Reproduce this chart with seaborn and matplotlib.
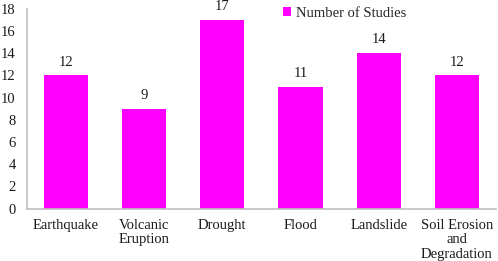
import matplotlib
matplotlib.use('Agg')
import matplotlib.pyplot as plt
import seaborn as sns

categories = ['Earthquake', 'Volcanic\nEruption', 'Drought', 'Flood', 'Landslide',
              'Soil Erosion\nand\nDegradation']
studies = [12, 9, 17, 11, 14, 12]
y_ticks = [0, 2, 4, 6, 8, 10, 12, 14, 16, 18]

sns.set_style('white')
plt.rcParams['font.family'] = ['Liberation Serif', 'DejaVu Serif']

fig = plt.figure(figsize=(4.98, 2.61), dpi=100)
ax = fig.add_axes([0.054, 0.201, 0.942, 0.765])

sns.barplot(x=categories, y=studies, color='#FF00FF', saturation=1, width=0.565,
            label='Number of Studies', linewidth=0, ax=ax)

for i, v in enumerate(studies):
    ax.text(i, v + 1.2, str(v), ha='center', va='center', fontsize=10.5, color='#1a1a1a')

ax.set_ylim(0, 18)
ax.set_xlim(-0.5, 5.5)
ax.set_yticks(y_ticks)
ax.tick_params(axis='both', length=0, labelsize=10.5, colors='#1a1a1a')
ax.tick_params(axis='x', pad=7.5)
ax.tick_params(axis='y', pad=8)
for lbl in ax.get_xticklabels():
    lbl.set_linespacing(1.15)

for side in ['top', 'right']:
    ax.spines[side].set_visible(False)
for side in ['left', 'bottom']:
    ax.spines[side].set_color('#BFBFBF')
    ax.spines[side].set_linewidth(1.2)

ax.legend(loc='center left', bbox_to_anchor=(0.545, 0.979), frameon=False, fontsize=10.5,
          handlelength=0.55, handleheight=0.55, handletextpad=0.35, borderaxespad=0,
          borderpad=0)

fig.savefig('out.png', dpi=100)
